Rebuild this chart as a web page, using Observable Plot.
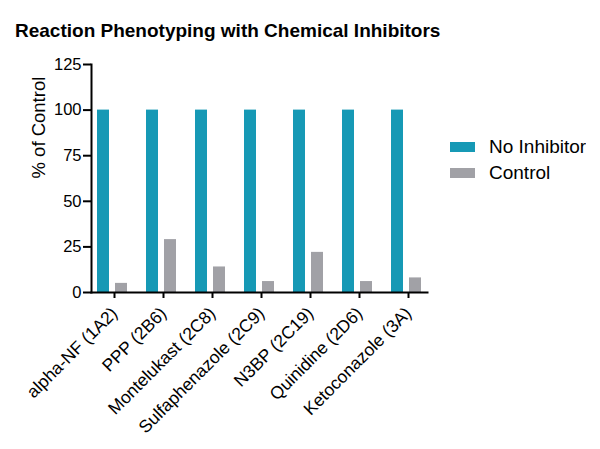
<!DOCTYPE html>
<html>
<head>
<meta charset="utf-8">
<script src="https://cdn.jsdelivr.net/npm/d3@7"></script>
<script src="https://cdn.jsdelivr.net/npm/@observablehq/plot@0.6"></script>
<style>
  html, body { margin: 0; padding: 0; background: #fff; }
  #wrap { position: relative; width: 600px; height: 449px; overflow: hidden; font-family: "Liberation Sans", Arial, sans-serif; }
  #title { position: absolute; left: 15px; top: 21px; font-size: 19px; line-height: 19px; font-weight: bold; color: #000; white-space: nowrap; }
  #chart { position: absolute; left: 0; top: 0; }
  #legend { position: absolute; left: 450px; top: 136px; }
  #legend div[class$="-swatch"] { padding-bottom: 4px !important; line-height: 22px; }
  #legend svg { margin-right: 14px !important; }
</style>
</head>
<body>
<div id="wrap">
  <div id="chart"></div>
  <div id="title">Reaction Phenotyping with Chemical Inhibitors</div>
  <div id="legend"></div>
</div>
<script>
const categories = ["alpha-NF (1A2)", "PPP (2B6)", "Montelukast (2C8)", "Sulfaphenazole (2C9)", "N3BP (2C19)", "Quinidine (2D6)", "Ketoconazole (3A)"];
const series = ["No Inhibitor", "Control"];
const noInhibitor = [100, 100, 100, 100, 100, 100, 100];
const control = [5, 29, 14, 6, 22, 6, 8];
const yTicks = [0, 25, 50, 75, 100, 125];
const seriesColors = ["#1699b5", "#a1a1a6"];
const yLabel = "% of Control";

const data = categories.flatMap((c, i) => [
  {cat: c, series: series[0], value: noInhibitor[i]},
  {cat: c, series: series[1], value: control[i]}
]);

const font = "'Liberation Sans', Arial, sans-serif";

const chart = Plot.plot({
  width: 600,
  height: 449,
  marginTop: 64,
  marginBottom: 157,
  marginLeft: 90,
  marginRight: 172,
  style: {fontFamily: font, fontSize: "16px", color: "#000", background: "transparent", overflow: "visible"},
  fx: {domain: categories, paddingInner: 0.15, paddingOuter: 0, label: null},
  x: {domain: series, paddingInner: 0.33, paddingOuter: 0.31, axis: null},
  y: {domain: [0, 125], label: null},
  color: {domain: series, range: seriesColors},
  marks: [
    Plot.barY(data, {fx: "cat", x: "series", y: "value", fill: "series"}),
    Plot.axisY({ticks: yTicks, tickSize: 8, tickPadding: 2, strokeWidth: 2, fontSize: 16.5, label: null}),
    Plot.axisFx({anchor: "bottom", tickRotate: -45, tickSize: 6, tickPadding: 12, dx: 2, strokeWidth: 2, fontSize: 17.5, label: null}),
    Plot.frame({anchor: "bottom", facet: "super", strokeWidth: 2, stroke: "#000"}),
    Plot.frame({anchor: "left", facet: "super", strokeWidth: 2, stroke: "#000"}),
    Plot.text([yLabel], {frameAnchor: "left", rotate: -90, dx: -52, fontSize: 18.5, facet: "super", fill: "#000"})
  ]
});
document.getElementById("chart").appendChild(chart);

const legend = Plot.legend({
  color: {domain: series, range: seriesColors},
  columns: 1,
  swatchWidth: 25,
  swatchHeight: 10,
  style: {fontFamily: font, fontSize: "19px", color: "#000"}
});
document.getElementById("legend").appendChild(legend);
</script>
</body>
</html>
